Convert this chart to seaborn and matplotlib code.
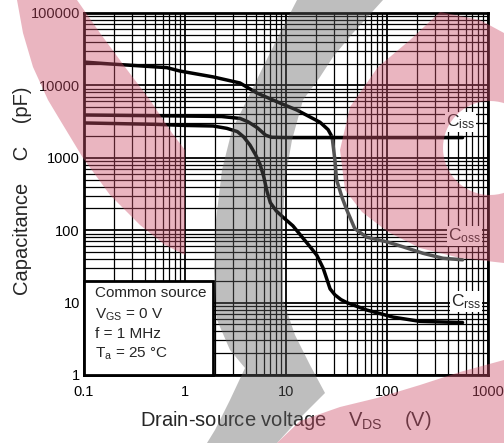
import numpy as np
import pandas as pd
import matplotlib
matplotlib.use("Agg")
import matplotlib.pyplot as plt
import seaborn as sns
from matplotlib.patches import Polygon, PathPatch, Rectangle
from matplotlib.path import Path
from matplotlib.ticker import LogLocator, FixedLocator, FixedFormatter, NullFormatter
import matplotlib.transforms as mtransforms

# ---------------- data ----------------
# curve ending at the "Coss" label
coss_v = [0.1, 0.18, 0.66, 0.89, 1.9, 3.5, 5.15, 8.7, 12.8, 21.7, 26.1, 28.6,
          30.5, 31.7, 36, 40, 48, 63, 100, 144, 227, 357, 560]
coss_c = [21000, 19800, 17600, 15800, 13100, 10800, 7850, 5710, 4570, 3100, 2450, 1940,
          930, 493, 280, 190, 105, 80, 69, 59, 48, 41, 39]
# curve ending at the "Ciss" label
ciss_v = [0.1, 0.66, 2.3, 3.5, 4.2, 5.2, 6.3, 7.2, 10, 560]
ciss_c = [3900, 3800, 3720, 3500, 3150, 2600, 2050, 1920, 1900, 1900]
# curve ending at the "Crss" label
crss_v = [0.1, 0.5, 1.0, 1.9, 2.6, 3.3, 3.8, 4.4, 5.0, 5.5, 6.0, 6.5, 7.0, 8.0, 9.4,
          11.7, 14.7, 17.5, 20.2, 23.3, 25.4, 27.3, 30.5, 35, 40, 63, 115, 213, 560]
crss_c = [3030, 2900, 2800, 2750, 2550, 2300, 1950, 1500, 1100, 830, 560, 340, 240, 185, 150,
          115, 78, 58, 45, 30, 21, 15.5, 12.8, 11, 10, 7.9, 6.3, 5.5, 5.3]

x_ticks = [0.1, 1, 10, 100, 1000]
x_tick_labels = ["0.1", "1", "10", "100", "1000"]
y_ticks = [1, 10, 100, 1000, 10000, 100000]
y_tick_labels = ["1", "10", "100", "1000", "10000", "100000"]
curve_labels = [r"$\mathregular{C_{iss}}$", r"$\mathregular{C_{oss}}$", r"$\mathregular{C_{rss}}$"]
conditions = ["Common source", r"$\mathregular{V_{GS}}$ = 0 V", "f = 1 MHz",
              r"$\mathregular{T_a}$ = 25 °C"]

# ---------------- style ----------------
sns.set_style("white")
plt.rcParams["font.family"] = ["Liberation Sans", "DejaVu Sans"]
plt.rcParams["mathtext.fontset"] = "custom"
plt.rcParams["mathtext.rm"] = "Liberation Sans"
plt.rcParams["mathtext.it"] = "Liberation Sans"

W, H = 504, 443
fig = plt.figure(figsize=(W / 100, H / 100), dpi=100)
fig.patch.set_facecolor("white")
ax = fig.add_axes([84 / W, 68 / H, 404 / W, 362 / H])
ax.set_facecolor("white")
ax.set_xscale("log")
ax.set_yscale("log")
ax.set_xlim(0.1, 1000)
ax.set_ylim(1, 100000)

ax.xaxis.set_major_locator(FixedLocator(x_ticks))
ax.xaxis.set_major_formatter(FixedFormatter(x_tick_labels))
ax.yaxis.set_major_locator(FixedLocator(y_ticks))
ax.yaxis.set_major_formatter(FixedFormatter(y_tick_labels))
ax.xaxis.set_minor_locator(LogLocator(base=10, subs=np.arange(2, 10)))
ax.yaxis.set_minor_locator(LogLocator(base=10, subs=np.arange(2, 10)))
ax.xaxis.set_minor_formatter(NullFormatter())
ax.yaxis.set_minor_formatter(NullFormatter())
ax.tick_params(which="both", length=0)
ax.tick_params(axis="x", labelsize=10.5, pad=7, colors="black")
ax.tick_params(axis="y", labelsize=10.5, pad=3, colors="black")
ax.set_axisbelow(True)
ax.grid(which="major", color="black", lw=1.3)
ax.grid(which="minor", color="black", lw=0.9)
for s in ax.spines.values():
    s.set_color("black")
    s.set_linewidth(2)

# ---------------- curves ----------------
lw = 2.5
coss_df = pd.DataFrame({"V": coss_v, "C": coss_c})
split = 28.6
sns.lineplot(data=coss_df[coss_df.V <= split], x="V", y="C", ax=ax, color="black",
             lw=lw, sort=False, estimator=None, zorder=3)
sns.lineplot(data=coss_df[coss_df.V >= split], x="V", y="C", ax=ax, color="#555555",
             lw=lw, sort=False, estimator=None, zorder=3)
sns.lineplot(x=ciss_v, y=ciss_c, ax=ax, color="black", lw=lw, sort=False,
             estimator=None, zorder=3)
sns.lineplot(x=crss_v, y=crss_c, ax=ax, color="black", lw=lw, sort=False,
             estimator=None, zorder=3)

label_pos = [(0.931, 0.699), (0.941, 0.384), (0.946, 0.202)]
for txt, (px, py) in zip(curve_labels, label_pos):
    ax.text(px, py, txt, transform=ax.transAxes, ha="center", va="center", fontsize=12.5,
            zorder=5, bbox=dict(facecolor="white", edgecolor="none", pad=0.8))

# ---------------- conditions box ----------------
ax.add_patch(Rectangle((0.1, 1), 1.9 - 0.1, 20 - 1, transform=ax.transData,
                       facecolor="white", edgecolor="black", lw=2, zorder=4, clip_on=False))
for txt, yy in zip(conditions, [0.2265, 0.166, 0.114, 0.058]):
    ax.text(0.027, yy, txt, transform=ax.transAxes, ha="left", va="center",
            fontsize=11, zorder=5)

ax.set_xlabel(r"Drain-source voltage    $\mathregular{V_{DS}}$    (V)", fontsize=14.5)
ax.set_ylabel("Capacitance    C    (pF)", fontsize=14.5)
ax.xaxis.set_label_coords(0.5, -0.095)
ax.yaxis.set_label_coords(-0.128, 0.51)

# ---------------- watermark (decorative background logo) ----------------
to_fig = mtransforms.Affine2D().scale(1 / W, -1 / H).translate(0, 1) + fig.transFigure
pink = dict(facecolor=(205 / 255, 80 / 255, 107 / 255), alpha=0.42, edgecolor="none",
            zorder=20)
grey = dict(facecolor=(97 / 255, 97 / 255, 97 / 255), alpha=0.41, edgecolor="none",
            zorder=20)

band_tl = [(17, 0), (77, 0), (100, 33), (125, 67), (150, 100), (172, 133), (185, 150),
           (185, 255), (165, 245), (140, 225), (110, 195), (83, 158), (60, 120),
           (48, 100), (33, 67), (23, 33)]
fig.add_artist(Polygon(band_tl, closed=True, transform=to_fig, **pink))

grey_band = [(297, 0), (280, 33), (263, 67), (247, 100), (232, 130), (222, 170),
             (216, 220), (214, 270), (217, 320), (230, 350), (245, 368), (230, 400),
             (215, 430), (207, 443), (277, 443), (300, 418), (325, 393), (310, 365),
             (295, 335), (283, 300), (283, 260), (283, 220), (285, 180), (292, 140),
             (303, 100), (320, 77), (333, 57), (353, 33), (383, 0)]
fig.add_artist(Polygon(grey_band, closed=True, transform=to_fig, **grey))

outer = [(440, 12), (480, 20), (504, 33), (504, 263), (460, 258), (420, 248), (388, 232),
         (362, 212), (345, 190), (340, 150), (350, 107), (378, 67), (410, 40)]
ang = np.linspace(0, 2 * np.pi, 73)
hole = [(490 + 47 * np.cos(a), 148 + 47 * np.sin(a)) for a in ang]
o = np.array(outer + [outer[0]], dtype=float)


def signed_area(p):
    p = np.asarray(p)
    return 0.5 * np.sum(p[:-1, 0] * p[1:, 1] - p[1:, 0] * p[:-1, 1])


h = np.array(hole)
if np.sign(signed_area(o)) == np.sign(signed_area(h)):
    h = h[::-1]
verts = np.vstack([o, h])
codes = ([Path.MOVETO] + [Path.LINETO] * (len(o) - 2) + [Path.CLOSEPOLY] +
         [Path.MOVETO] + [Path.LINETO] * (len(h) - 2) + [Path.CLOSEPOLY])
fig.add_artist(PathPatch(Path(verts, codes), transform=to_fig, **pink))

band_br = [(277, 443), (300, 421), (340, 407), (377, 398), (420, 385), (460, 372),
           (504, 360), (504, 443)]
fig.add_artist(Polygon(band_br, closed=True, transform=to_fig, **pink))

fig.savefig("out.png", dpi=100, facecolor="white")
